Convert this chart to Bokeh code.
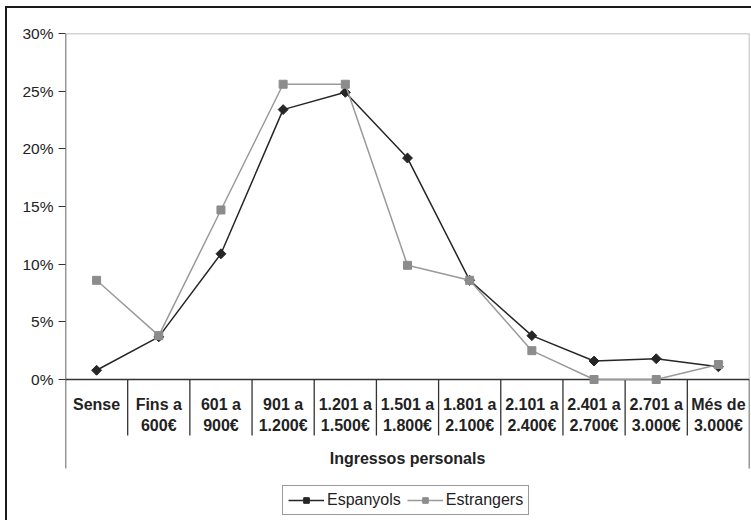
import numpy as np
from bokeh.plotting import figure
from bokeh.models import (Range1d, FixedTicker, PrintfTickFormatter, Legend, Span,
                          ColumnDataSource)
from bokeh.core.properties import value
from bokeh.embed import file_html
from bokeh.resources import INLINE

# ---- data ----
cat_line1 = ["Sense", "Fins a", "601 a", "901 a", "1.201 a", "1.501 a",
             "1.801 a", "2.101 a", "2.401 a", "2.701 a", "Més de"]
cat_line2 = ["", "600€", "900€", "1.200€", "1.500€", "1.800€",
             "2.100€", "2.400€", "2.700€", "3.000€", "3.000€"]
espanyols = [0.8, 3.7, 10.9, 23.4, 24.9, 19.2, 8.6, 3.8, 1.6, 1.8, 1.1]
estrangers = [8.6, 3.8, 14.7, 25.6, 25.6, 9.9, 8.6, 2.5, 0.0, 0.0, 1.3]
y_ticks = [0, 5, 10, 15, 20, 25, 30]
x_title = "Ingressos personals"

n = len(cat_line1)
xc = np.arange(n) + 0.5

FONT = "Liberation Sans"
DARK = "#262626"
GREY = "#9a9a9a"
PX = 30 / 346            # data units per pixel on the y scale
YMIN = -141 * PX         # frame reaches the bottom of the picture
YSEP_OUT = -89 * PX
YSEP_IN = -56 * PX

p = figure(width=751, height=520, output_backend="svg", toolbar_location=None,
           x_range=Range1d(0, n), y_range=Range1d(YMIN, 30),
           x_axis_location=None,
           min_border_left=65, min_border_right=2, min_border_top=33, min_border_bottom=0)
p.outline_line_color = None
p.xgrid.visible = False
p.ygrid.visible = False
p.background_fill_color = None
p.border_fill_color = None
p.styles = {
    "background": ("linear-gradient(#1a1a1a,#1a1a1a) 5px 6px / 2px 100% no-repeat, "
                   "linear-gradient(#1a1a1a,#1a1a1a) 5px 6px / 100% 2px no-repeat, white"),
}

ax = p.yaxis[0]
ax.ticker = FixedTicker(ticks=y_ticks)
ax.formatter = PrintfTickFormatter(format="%d%%")
ax.major_label_text_font = FONT
ax.major_label_text_font_size = "15.5px"
ax.major_label_text_color = "#222222"
ax.major_tick_in = 0
ax.major_tick_out = 7
ax.minor_tick_out = 0
ax.minor_tick_in = 0
ax.major_label_standoff = 5
ax.axis_line_color = None
ax.major_tick_line_color = "#333333"
ax.major_tick_line_width = 1.2

# plot-area borders (top grey, right grey), axis line and zero line
p.add_layout(Span(location=30, dimension="width", line_color="#a8a8a8", line_width=1.5))
p.segment(x0=[n], y0=[0], x1=[n], y1=[30], line_color="#a8a8a8", line_width=1.5)
p.segment(x0=[0, n], y0=[YSEP_OUT, YSEP_OUT], x1=[0, n], y1=[30, 0],
          line_color="#333333", line_width=1.5)
p.segment(x0=[0], y0=[0], x1=[n], y1=[0], line_color="#333333", line_width=1.5)

# category separators
bounds = np.arange(1, n)
p.segment(x0=bounds, y0=np.zeros(len(bounds)), x1=bounds,
          y1=np.full(len(bounds), YSEP_IN), line_color="#333333", line_width=1.3)

# category labels
src = ColumnDataSource(dict(x=xc, y=np.zeros(n), l1=cat_line1, l2=cat_line2))
p.text(x="x", y="y", text="l1", source=src, y_offset=25, text_align="center",
       text_baseline="middle", text_font=value(FONT), text_font_size="16px",
       text_font_style="bold", text_color="#222222")
p.text(x="x", y="y", text="l2", source=src, y_offset=46, text_align="center",
       text_baseline="middle", text_font=value(FONT), text_font_size="16px",
       text_font_style="bold", text_color="#222222")
p.text(x=[n / 2], y=[0], text=[x_title], y_offset=79, text_align="center",
       text_baseline="middle", text_font=value(FONT), text_font_size="16px",
       text_font_style="bold", text_color="#222222")

# series
r1 = p.line(xc, espanyols, line_color=DARK, line_width=1.5)
s1 = p.scatter(xc, espanyols, marker="square", angle=np.pi / 4, size=7,
               fill_color=DARK, line_color=DARK)
r2 = p.line(xc, estrangers, line_color=GREY, line_width=1.5)
s2 = p.scatter(xc, estrangers, marker="square", size=8, fill_color="#8c8c8c", line_color="#8c8c8c")

legend = Legend(items=[("Espanyols", [r1, s1]), ("Estrangers", [r2, s2])],
                orientation="horizontal", location=(217, 5),
                label_text_font=FONT, label_text_font_size="16px", label_text_color="#222222",
                glyph_width=36, glyph_height=14, label_standoff=3, spacing=6, padding=5,
                margin=0, border_line_color="#333333", border_line_width=1.5,
                background_fill_color="white", label_height=16)
p.add_layout(legend, "center")

open("out.html", "w").write(file_html(p, INLINE))
